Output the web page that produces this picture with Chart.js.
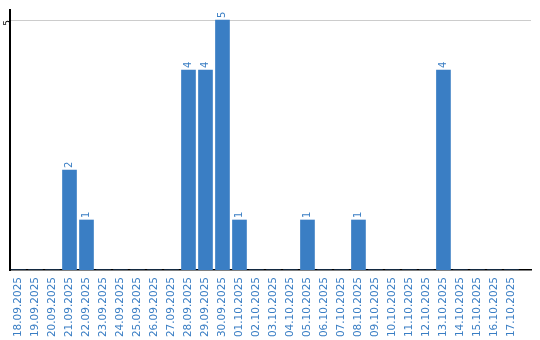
<!DOCTYPE html>
<html>
<head>
<meta charset="utf-8">
<script src="https://cdn.jsdelivr.net/npm/chart.js@4/dist/chart.umd.min.js"></script>
<style>
  html, body { margin: 0; padding: 0; background: #fff; }
  #wrap { width: 540px; height: 340px; }
</style>
</head>
<body>
<div id="wrap"><canvas id="chart"></canvas></div>
<script>
var dates = ['18.09.2025', '19.09.2025', '20.09.2025', '21.09.2025', '22.09.2025',
    '23.09.2025', '24.09.2025', '25.09.2025', '26.09.2025', '27.09.2025',
    '28.09.2025', '29.09.2025', '30.09.2025', '01.10.2025', '02.10.2025',
    '03.10.2025', '04.10.2025', '05.10.2025', '06.10.2025', '07.10.2025',
    '08.10.2025', '09.10.2025', '10.10.2025', '11.10.2025', '12.10.2025',
    '13.10.2025', '14.10.2025', '15.10.2025', '16.10.2025', '17.10.2025'];
var counts = [0, 0, 0, 2, 1, 0, 0, 0, 0, 0, 4, 4, 5, 1, 0, 0, 0, 1, 0, 0, 1, 0, 0, 0, 0, 4, 0, 0, 0, 0];
var yTicks = [5];

var blue = '#3a7ec4';

// value labels above the bars, rotated like the axis labels
var valueLabels = {
    id: 'valueLabels',
    afterDatasetsDraw: function(chart) {
        var ctx = chart.ctx;
        var meta = chart.getDatasetMeta(0);
        ctx.save();
        ctx.fillStyle = blue;
        ctx.font = '10px "DejaVu Sans"';
        ctx.textAlign = 'left';
        ctx.textBaseline = 'middle';
        meta.data.forEach(function(bar, i) {
            if (!counts[i]) return;
            ctx.save();
            ctx.translate(bar.x, bar.y - 2);
            ctx.rotate(-Math.PI / 2);
            ctx.fillText(String(counts[i]), 0, 0);
            ctx.restore();
        });
        ctx.restore();
    }
};

var ctx = document.getElementById('chart');
new Chart(ctx, {
    type: 'bar',
    data: {
        datasets: [{
            data: counts.map(function(v, i) { return { x: i, y: v }; }),
            backgroundColor: blue,
            barThickness: 14
        }]
    },
    options: {
        responsive: true,
        maintainAspectRatio: false,
        animation: false,
        layout: { padding: { top: 10, right: 9, left: 0, bottom: 0 } },
        plugins: {
            legend: { display: false },
            tooltip: { enabled: false }
        },
        scales: {
            x: {
                type: 'linear',
                offset: false,
                min: -0.5,
                max: 30.15,
                grid: { display: false, drawTicks: false },
                border: { color: '#000', width: 1.5 },
                afterBuildTicks: function(scale) {
                    scale.ticks = dates.map(function(d, i) { return { value: i }; });
                },
                afterFit: function(scale) { scale.height = 70; },
                ticks: {
                    autoSkip: false,
                    minRotation: 90,
                    maxRotation: 90,
                    padding: 7,
                    color: blue,
                    font: { family: 'DejaVu Sans', size: 10.5 },
                    callback: function(v) { return dates[v]; }
                }
            },
            y: {
                min: 0,
                max: 5.2,
                border: { color: '#000', width: 2 },
                grid: { color: '#cccccc', drawTicks: false, lineWidth: 1 },
                afterBuildTicks: function(scale) {
                    scale.ticks = yTicks.map(function(v) { return { value: v }; });
                },
                afterFit: function(scale) { scale.width = 10; },
                ticks: {
                    minRotation: 90,
                    maxRotation: 90,
                    padding: 2,
                    color: '#000',
                    font: { family: 'DejaVu Sans', size: 9 }
                }
            }
        }
    },
    plugins: [valueLabels]
});
</script>
</body>
</html>
